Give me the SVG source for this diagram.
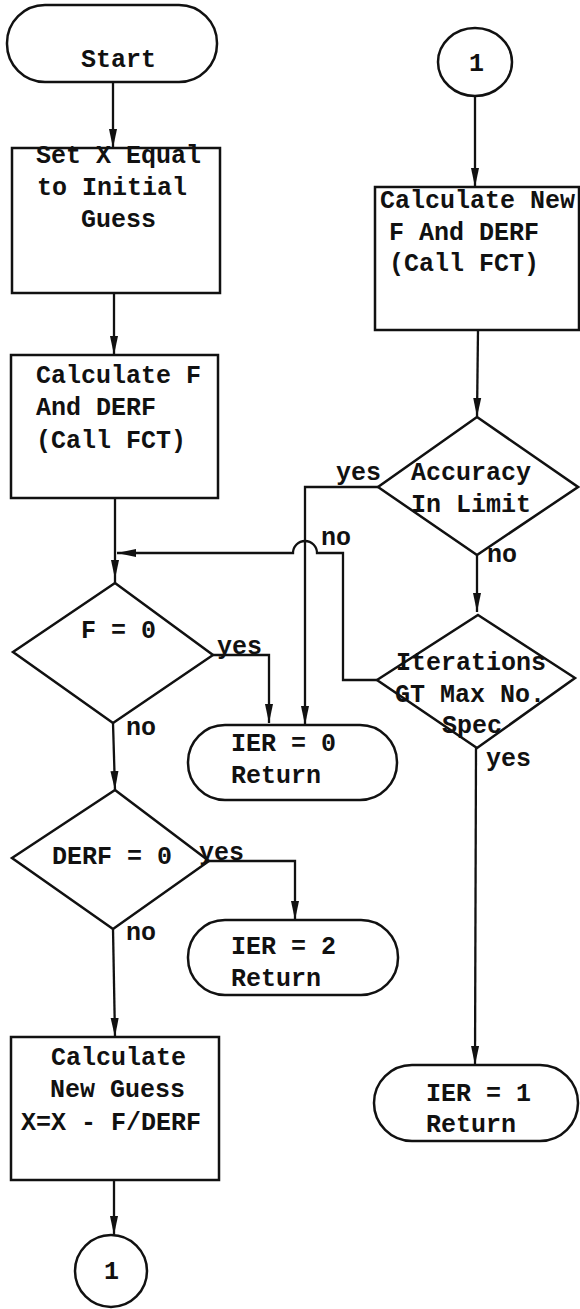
<svg xmlns="http://www.w3.org/2000/svg" width="580" height="1309" viewBox="0 0 580 1309">
<style>
.s{fill:none;stroke:#111;stroke-width:2.5}
.c{fill:none;stroke:#111;stroke-width:2.3}
text{font-family:"Liberation Mono","Courier New",monospace;font-size:25px;font-weight:bold;fill:#111}
</style>
<defs>
<marker id="a" markerUnits="userSpaceOnUse" markerWidth="20" markerHeight="10" refX="19" refY="5" orient="auto">
<path d="M0,1 L19,5 L0,9 Z" fill="#111"/>
</marker>
</defs>
<rect width="580" height="1309" fill="#fff"/>
<g id="start"><rect class="s" x="7" y="5" width="210" height="77" rx="38"/><text x="81" y="67">Start</text></g>
<g id="setx"><rect class="s" x="12" y="148" width="208" height="145"/><text x="36" y="163">Set X Equal</text><text x="37" y="195">to Initial</text><text x="81" y="227">Guess</text></g>
<g id="calcf"><rect class="s" x="11" y="355" width="207" height="143"/><text x="36" y="383">Calculate F</text><text x="36" y="415">And DERF</text><text x="36" y="448">(Call FCT)</text></g>
<g id="f0"><polygon class="s" points="115,583 213,655 113,723 13,652"/><text x="81" y="638">F = 0</text></g>
<g id="derf0"><polygon class="s" points="115,790 209,861 113,929 12,858"/><text x="52" y="864">DERF = 0</text></g>
<g id="calcnew"><rect class="s" x="11" y="1037" width="208" height="143"/><text x="51" y="1065">Calculate</text><text x="50" y="1097">New Guess</text><text x="21" y="1130">X=X - F/DERF</text></g>
<g id="conn-bottom"><circle class="s" cx="111" cy="1271" r="36"/><text x="104" y="1279">1</text></g>
<g id="ier0"><rect class="s" x="188" y="725" width="209" height="75" rx="37"/><text x="231" y="751">IER = 0</text><text x="231" y="783">Return</text></g>
<g id="ier2"><rect class="s" x="188" y="920" width="210" height="75" rx="37"/><text x="231" y="954">IER = 2</text><text x="231" y="986">Return</text></g>
<g id="conn-top"><ellipse class="s" cx="475" cy="62" rx="37" ry="34"/><text x="469" y="71">1</text></g>
<g id="calcnewf"><rect class="s" x="375" y="187" width="204" height="143"/><text x="380" y="208">Calculate New</text><text x="389" y="240">F And DERF</text><text x="389" y="271">(Call FCT)</text></g>
<g id="accuracy"><polygon class="s" points="477,417 578,487 477,555 378,487"/><text x="411" y="480">Accuracy</text><text x="411" y="512">In Limit</text></g>
<g id="iter"><polygon class="s" points="478,615 575,678 477,748 377,680"/><text x="396" y="670">Iterations</text><text x="395" y="702">GT Max No.</text><text x="442" y="733">Spec</text></g>
<g id="ier1"><rect class="s" x="374" y="1065" width="204" height="76" rx="38"/><text x="426" y="1101">IER = 1</text><text x="426" y="1132">Return</text></g>
<g id="connectors">
<path class="c" d="M113,83 L113,148" marker-end="url(#a)"/>
<path class="c" d="M114,293 L114,355" marker-end="url(#a)"/>
<path class="c" d="M115,498 L115,579" marker-end="url(#a)"/>
<path class="c" d="M115,579 L115,583"/>
<path class="c" d="M377,680 L343,680 L343,553 L317,553 A12,12 0 0 0 293,553 L117,553" marker-end="url(#a)"/>
<path class="c" d="M378,487 L305,487 L305,725" marker-end="url(#a)"/>
<path class="c" d="M213,655 L269,655 L269,723" marker-end="url(#a)"/>
<path class="c" d="M113,723 L115,790" marker-end="url(#a)"/>
<path class="c" d="M209,861 L295,861 L295,920" marker-end="url(#a)"/>
<path class="c" d="M113,929 L115,1037" marker-end="url(#a)"/>
<path class="c" d="M114,1180 L114,1235" marker-end="url(#a)"/>
<path class="c" d="M475,96 L475,187" marker-end="url(#a)"/>
<path class="c" d="M478,330 L477,417" marker-end="url(#a)"/>
<path class="c" d="M477,555 L477,612" marker-end="url(#a)"/>
<path class="c" d="M476,748 L475,1065" marker-end="url(#a)"/>
</g>
<g id="labels">
<text x="336" y="480">yes</text>
<text x="321" y="545">no</text>
<text x="487" y="562">no</text>
<text x="217" y="654">yes</text>
<text x="126" y="735">no</text>
<text x="486" y="766">yes</text>
<text x="199" y="860">yes</text>
<text x="126" y="940">no</text>
</g>
</svg>
